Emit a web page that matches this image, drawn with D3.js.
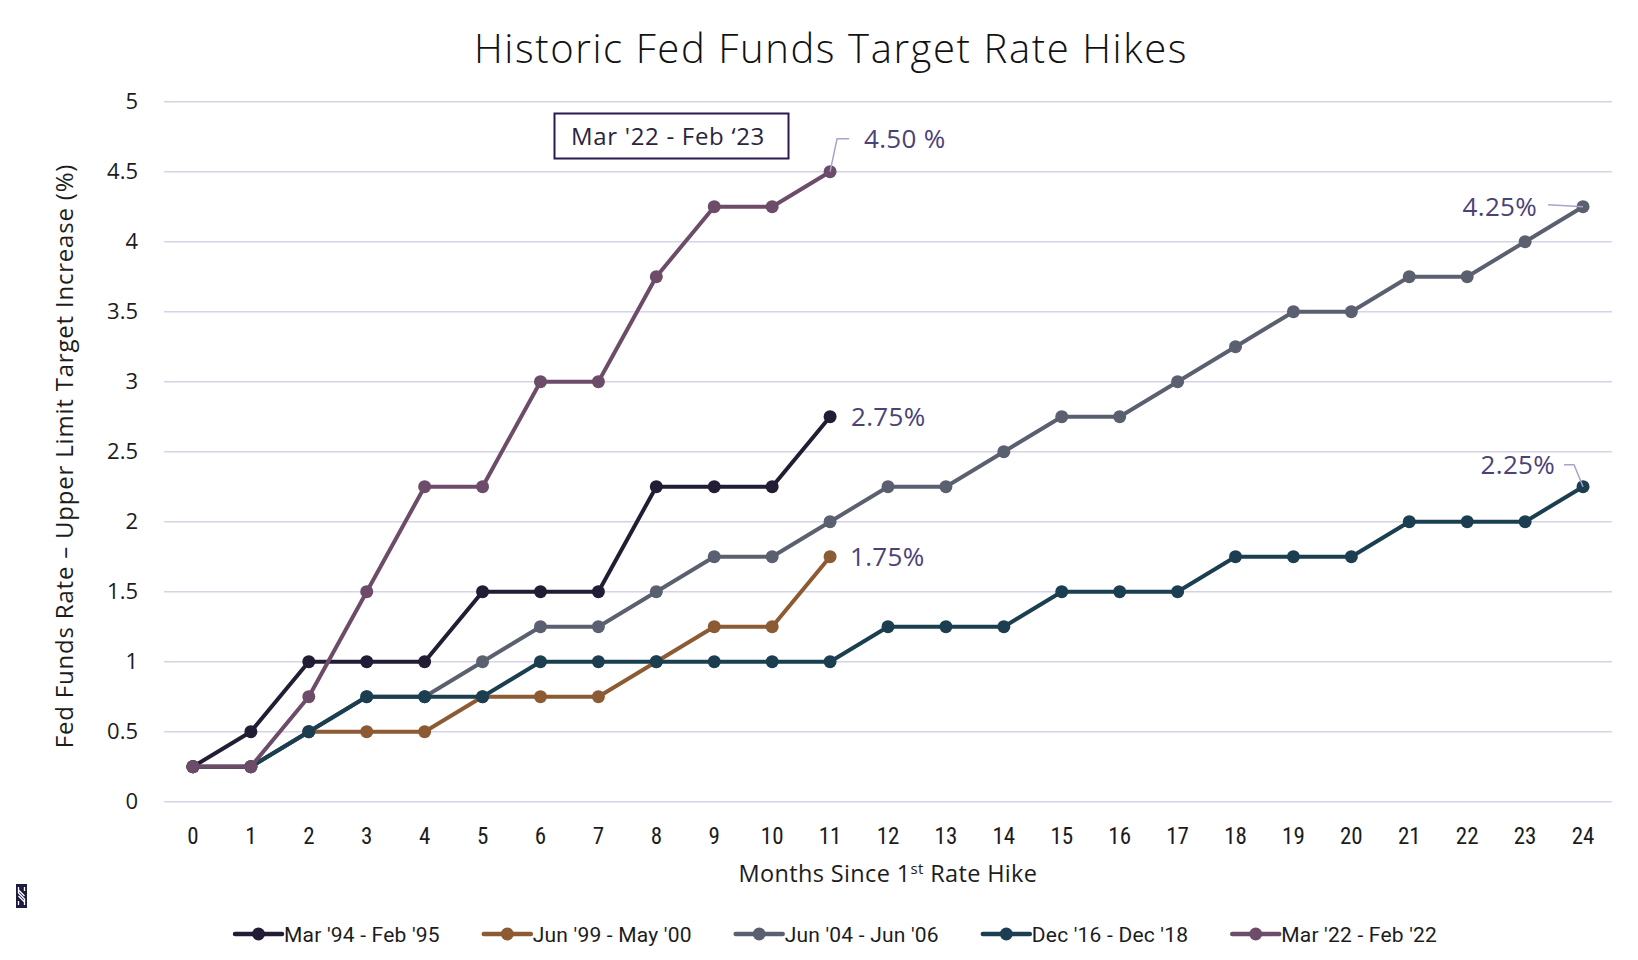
<!DOCTYPE html>
<html><head><meta charset="utf-8">
<script src="https://cdn.jsdelivr.net/npm/d3@7/dist/d3.min.js"></script>
<style>
html,body{margin:0;padding:0;background:#fff;}
svg{display:block;}
</style></head>
<body>
<svg id="chart" width="1638" height="960"></svg>
<script>
const months = d3.range(0, 25);
const yTicks = [0, 0.5, 1, 1.5, 2, 2.5, 3, 3.5, 4, 4.5, 5];
const seriesNames = ["Mar '94 - Feb '95", "Jun '99 - May '00", "Jun '04 - Jun '06", "Dec '16 - Dec '18", "Mar '22 - Feb '22"];
const seriesColors = ["#221c35", "#8c5a33", "#5a606f", "#1b3f50", "#6d4c69"];
const mar94 = [0.25, 0.5, 1, 1, 1, 1.5, 1.5, 1.5, 2.25, 2.25, 2.25, 2.75];
const jun99 = [0.25, 0.25, 0.5, 0.5, 0.5, 0.75, 0.75, 0.75, 1, 1.25, 1.25, 1.75];
const jun04 = [0.25, 0.25, 0.5, 0.75, 0.75, 1, 1.25, 1.25, 1.5, 1.75, 1.75, 2, 2.25, 2.25, 2.5, 2.75, 2.75, 3, 3.25, 3.5, 3.5, 3.75, 3.75, 4, 4.25];
const dec16 = [0.25, 0.25, 0.5, 0.75, 0.75, 0.75, 1, 1, 1, 1, 1, 1, 1.25, 1.25, 1.25, 1.5, 1.5, 1.5, 1.75, 1.75, 1.75, 2, 2, 2, 2.25];
const mar22 = [0.25, 0.25, 0.75, 1.5, 2.25, 2.25, 3, 3, 3.75, 4.25, 4.25, 4.5];
const seriesValues = [mar94, jun99, jun04, dec16, mar22];
const endLabels = ["2.75%", "1.75%", "4.25%", "2.25%", "4.50 %"];

const svg = d3.select("#chart");
const pLeft = 164, pRight = 1612, pTop = 101.7, pBottom = 801.7;
const mainFont = "'Open Sans', Lato, sans-serif";
const narrowFont = "Roboto, 'Liberation Sans Narrow', sans-serif";

const x = d3.scaleBand().domain(months).range([pLeft, pRight]);
const xc = m => x(m) + x.bandwidth() / 2;
const y = d3.scaleLinear().domain([0, 5]).range([pBottom, pTop]);

// gridlines
svg.append("g").selectAll("line").data(yTicks).join("line")
  .attr("x1", pLeft).attr("x2", pRight)
  .attr("y1", d => y(d)).attr("y2", d => y(d))
  .attr("stroke", "#d6d3e6").attr("stroke-width", 1.5);

// y axis
const yAxis = svg.append("g").attr("transform", `translate(${pLeft},0)`)
  .call(d3.axisLeft(y).tickValues(yTicks).tickSize(0).tickPadding(26).tickFormat(d => String(d)));
yAxis.select(".domain").remove();
yAxis.selectAll("text").attr("font-family", mainFont).attr("font-size", 22).attr("fill", "#1c1c1c");

// x axis
const xAxis = svg.append("g").attr("transform", `translate(0,${pBottom})`)
  .call(d3.axisBottom(x).tickSize(0).tickPadding(26));
xAxis.select(".domain").remove();
xAxis.selectAll("text").attr("font-family", "'Liberation Sans Narrow', 'Roboto Condensed', Roboto, sans-serif").attr("font-size", 23).attr("fill", "#1c1c1c");

// title
svg.append("text").attr("x", 831).attr("y", 63).attr("text-anchor", "middle")
  .attr("font-family", mainFont).attr("font-size", 40).attr("font-weight", 300).attr("letter-spacing", 1.6).attr("fill", "#111")
  .text("Historic Fed Funds Target Rate Hikes");

// y axis title
svg.append("text").attr("transform", "translate(73,456) rotate(-90)").attr("text-anchor", "middle")
  .attr("font-family", mainFont).attr("font-size", 24).attr("letter-spacing", 0.8).attr("fill", "#1c1c1c")
  .text("Fed Funds Rate \u2013 Upper Limit Target Increase (%)");

// x axis title
const xt = svg.append("text").attr("x", 888).attr("y", 882).attr("text-anchor", "middle")
  .attr("font-family", mainFont).attr("font-size", 23.5).attr("letter-spacing", 0.35).attr("fill", "#1c1c1c");
xt.append("tspan").text("Months Since 1");
xt.append("tspan").attr("dy", -8).attr("font-size", 15).text("st");
xt.append("tspan").attr("dy", 8).text(" Rate Hike");

// series
const line = d3.line().x((d, i) => xc(i)).y(d => y(d));
seriesValues.forEach((vals, si) => {
  const g = svg.append("g");
  g.append("path").datum(vals).attr("d", line).attr("fill", "none")
    .attr("stroke", seriesColors[si]).attr("stroke-width", 4).attr("stroke-linejoin", "round");
  g.selectAll("circle").data(vals).join("circle")
    .attr("cx", (d, i) => xc(i)).attr("cy", d => y(d)).attr("r", 6.5).attr("fill", seriesColors[si]);
});

// end labels
const labColor = "#4b4278", leadColor = "#a9a3cc";
function endPt(si) { const v = seriesValues[si]; return [xc(v.length - 1), y(v[v.length - 1])]; }
function lab(tx, ty, anchor, txt) {
  svg.append("text").attr("x", tx).attr("y", ty).attr("text-anchor", anchor)
    .attr("font-family", mainFont).attr("font-size", 26).attr("letter-spacing", 0.3).attr("fill", labColor).text(txt);
}
{ const [px, py] = endPt(0); lab(px + 21, py + 9, "start", endLabels[0]); }
{ const [px, py] = endPt(1); lab(px + 20, py + 9, "start", endLabels[1]); }
{ const [px, py] = endPt(2);
  svg.append("path").attr("d", `M${px},${py} L${px - 35},${py - 2}`).attr("stroke", leadColor).attr("stroke-width", 1.5).attr("fill", "none");
  lab(px - 46, py + 9, "end", endLabels[2]); }
{ const [px, py] = endPt(3);
  svg.append("path").attr("d", `M${px},${py} L${px - 9},${py - 22} L${px - 19},${py - 22}`).attr("stroke", leadColor).attr("stroke-width", 1.5).attr("fill", "none");
  lab(px - 28, py - 13, "end", endLabels[3]); }
{ const [px, py] = endPt(4);
  svg.append("path").attr("d", `M${px},${py} L${px + 7},${py - 33} L${px + 19},${py - 33}`).attr("stroke", leadColor).attr("stroke-width", 1.5).attr("fill", "none");
  lab(px + 34, py - 24, "start", endLabels[4]); }

// annotation box
svg.append("rect").attr("x", 554.5).attr("y", 113.5).attr("width", 234).attr("height", 45)
  .attr("fill", "#fff").attr("stroke", "#2a1a50").attr("stroke-width", 2);
svg.append("text").attr("x", 668).attr("y", 145).attr("text-anchor", "middle")
  .attr("font-family", mainFont).attr("font-size", 24).attr("letter-spacing", 0.7).attr("fill", "#2a2440").text("Mar '22 - Feb \u201823");

// legend
const legG = svg.append("g");
let lx = 235;
const ly = 934;
seriesNames.forEach((n, i) => {
  const g = legG.append("g");
  g.append("line").attr("x1", lx).attr("x2", lx + 47).attr("y1", ly).attr("y2", ly)
    .attr("stroke", seriesColors[i]).attr("stroke-width", 4.5).attr("stroke-linecap", "round");
  g.append("circle").attr("cx", lx + 23.5).attr("cy", ly).attr("r", 6.5).attr("fill", seriesColors[i]);
  const t = g.append("text").attr("x", lx + 49).attr("y", ly + 7.5)
    .attr("font-family", narrowFont).attr("font-size", 21).attr("letter-spacing", 0.2).attr("fill", "#1c1c1c").text(n);
  lx = lx + 49 + t.node().getComputedTextLength() + 44;
});

// logo
const logo = svg.append("g").attr("transform", "translate(16,884)");
logo.append("rect").attr("width", 11).attr("height", 24).attr("fill", "#1d1b3f");
logo.append("path").attr("d", "M2.5,3 L2.5,9 L8.5,15 L8.5,21 M8.5,3 L8.5,7 M2.5,17 L2.5,21 M2.5,12 L8.5,18 M2.5,6 L8.5,12")
  .attr("stroke", "#fff").attr("stroke-width", 1.3).attr("fill", "none");
</script>
</body></html>
